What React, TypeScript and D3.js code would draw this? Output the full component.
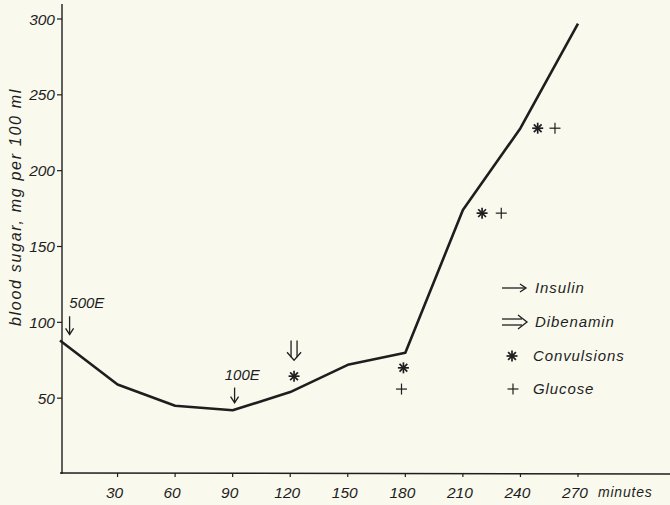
import React from "react";
import * as d3 from "d3";

// Blood sugar curve (mg per 100 ml) sampled every 30 minutes
const minutes = [0, 30, 60, 90, 120, 150, 180, 210, 240, 270];
const bloodSugar = [88, 59, 45, 42, 54, 72, 80, 174, 228, 297];

const xTicks = [30, 60, 90, 120, 150, 180, 210, 240, 270];
const yTicks = [50, 100, 150, 200, 250, 300];

// Insulin doses: arrow position (time, top value, tip value) and label
const insulinTimes = [5, 91];
const insulinTop = [104, 57];
const insulinTip = [92, 47];
const insulinLabels = ["500E", "100E"];
const insulinLabelTimes = [14, 95];

// Dibenamin injection
const dibenaminTimes = [122];
const dibenaminTop = [88];
const dibenaminTip = [75];

// Convulsions and glucose events
const convulsionTimes = [122, 179, 220, 249];
const convulsionValues = [64.5, 70, 172, 228];
const glucoseTimes = [178, 230, 258];
const glucoseValues = [56, 172, 228];

const legendLabels = ["Insulin", "Dibenamin", "Convulsions", "Glucose"];

const W = 670;
const H = 505;
const FONT = "'Liberation Sans', Arial, sans-serif";
const INK = "#1e1e1e";

const x = d3.scaleLinear().domain([0, 270]).range([60, 578]);
const y = d3.scaleLinear().domain([0, 300]).range([474, 19]);

function Asterisk({ cx, cy, r = 5.5 }: { cx: number; cy: number; r?: number }) {
  const angles = [0, 45, 90, 135];
  return (
    <g stroke={INK} strokeWidth={1.7}>
      {angles.map((a) => {
        const rad = (a * Math.PI) / 180;
        const dx = Math.cos(rad) * r;
        const dy = Math.sin(rad) * r;
        return <line key={a} x1={cx - dx} y1={cy - dy} x2={cx + dx} y2={cy + dy} />;
      })}
    </g>
  );
}

function Plus({ cx, cy, r = 5.5 }: { cx: number; cy: number; r?: number }) {
  return (
    <g stroke={INK} strokeWidth={1.2}>
      <line x1={cx - r} y1={cy} x2={cx + r} y2={cy} />
      <line x1={cx} y1={cy - r} x2={cx} y2={cy + r} />
    </g>
  );
}

function DownArrow({ cx, y1, y2 }: { cx: number; y1: number; y2: number }) {
  return (
    <g stroke={INK} strokeWidth={1.3} fill="none">
      <line x1={cx} y1={y1} x2={cx} y2={y2} />
      <path d={`M${cx - 4},${y2 - 6} L${cx},${y2} L${cx + 4},${y2 - 6}`} />
    </g>
  );
}

function DoubleDownArrow({ cx, y1, y2 }: { cx: number; y1: number; y2: number }) {
  return (
    <g stroke={INK} strokeWidth={1.3} fill="none">
      <line x1={cx - 3} y1={y1} x2={cx - 3} y2={y2 - 3} />
      <line x1={cx + 3} y1={y1} x2={cx + 3} y2={y2 - 3} />
      <path d={`M${cx - 7},${y2 - 8} L${cx},${y2} L${cx + 7},${y2 - 8}`} />
    </g>
  );
}

export default function App() {
  const line = d3
    .line<number>()
    .x((_, i) => x(minutes[i]))
    .y((d) => y(d));

  const legendX = 502;
  const legendRows = [288, 322, 356, 389];

  return (
    <svg
      width={W}
      height={H}
      style={{ position: "absolute", left: 0, top: 0, background: "#f9f9ee" }}
      fontFamily={FONT}
      fontStyle="italic"
      fill={INK}
    >
      {/* y axis */}
      <line x1={62} y1={4} x2={62} y2={474} stroke={INK} strokeWidth={1.4} />
      {yTicks.map((t) => (
        <g key={t}>
          <line x1={57} x2={62} y1={y(t)} y2={y(t)} stroke={INK} strokeWidth={1.2} />
          <text x={55} y={y(t)} dy="0.36em" textAnchor="end" fontSize={15.5}>
            {t}
          </text>
        </g>
      ))}
      <text
        transform="translate(21,207) rotate(-90)"
        textAnchor="middle"
        fontSize={16}
        letterSpacing={1.7}
      >
        blood sugar, mg per 100 ml
      </text>

      {/* x axis */}
      <line x1={60} y1={473} x2={670} y2={474} stroke={INK} strokeWidth={1.4} />
      {xTicks.map((t) => (
        <g key={t}>
          <line x1={x(t)} x2={x(t)} y1={473} y2={477} stroke={INK} strokeWidth={1.2} />
          <text x={x(t) - 3} y={498} textAnchor="middle" fontSize={15.5}>
            {t}
          </text>
        </g>
      ))}
      <text x={598} y={497} fontSize={14} letterSpacing={0.8}>
        minutes
      </text>

      {/* blood sugar curve */}
      <path
        d={line(bloodSugar) || ""}
        fill="none"
        stroke={INK}
        strokeWidth={2.6}
        strokeLinejoin="round"
      />

      {/* insulin doses */}
      {insulinTimes.map((t, i) => (
        <g key={"ins" + i}>
          <DownArrow cx={x(t)} y1={y(insulinTop[i])} y2={y(insulinTip[i])} />
          <text
            x={x(insulinLabelTimes[i])}
            y={y(insulinTop[i]) - 8}
            textAnchor="middle"
            fontSize={15}
          >
            {insulinLabels[i]}
          </text>
        </g>
      ))}

      {/* dibenamin */}
      {dibenaminTimes.map((t, i) => (
        <DoubleDownArrow
          key={"dib" + i}
          cx={x(t)}
          y1={y(dibenaminTop[i])}
          y2={y(dibenaminTip[i])}
        />
      ))}

      {/* convulsions */}
      {convulsionTimes.map((t, i) => (
        <Asterisk key={"cv" + i} cx={x(t)} cy={y(convulsionValues[i])} />
      ))}

      {/* glucose */}
      {glucoseTimes.map((t, i) => (
        <Plus key={"gl" + i} cx={x(t)} cy={y(glucoseValues[i])} />
      ))}

      {/* legend */}
      <g>
        <g stroke={INK} strokeWidth={1.3} fill="none">
          <line x1={legendX} y1={legendRows[0]} x2={legendX + 23} y2={legendRows[0]} />
          <path
            d={`M${legendX + 18},${legendRows[0] - 4} L${legendX + 24},${legendRows[0]} L${legendX + 18},${legendRows[0] + 4}`}
          />
          <line x1={legendX} y1={legendRows[1] - 3} x2={legendX + 20} y2={legendRows[1] - 3} />
          <line x1={legendX} y1={legendRows[1] + 3} x2={legendX + 20} y2={legendRows[1] + 3} />
          <path
            d={`M${legendX + 16},${legendRows[1] - 7} L${legendX + 25},${legendRows[1]} L${legendX + 16},${legendRows[1] + 7}`}
          />
        </g>
        <Asterisk cx={legendX + 10} cy={legendRows[2]} />
        <Plus cx={legendX + 11} cy={legendRows[3]} />
        {legendLabels.map((l, i) => (
          <text
            key={l}
            x={i < 2 ? 535 : 533}
            y={legendRows[i]}
            dy="0.36em"
            fontSize={15}
            letterSpacing={0.9}
          >
            {l}
          </text>
        ))}
      </g>
    </svg>
  );
}
